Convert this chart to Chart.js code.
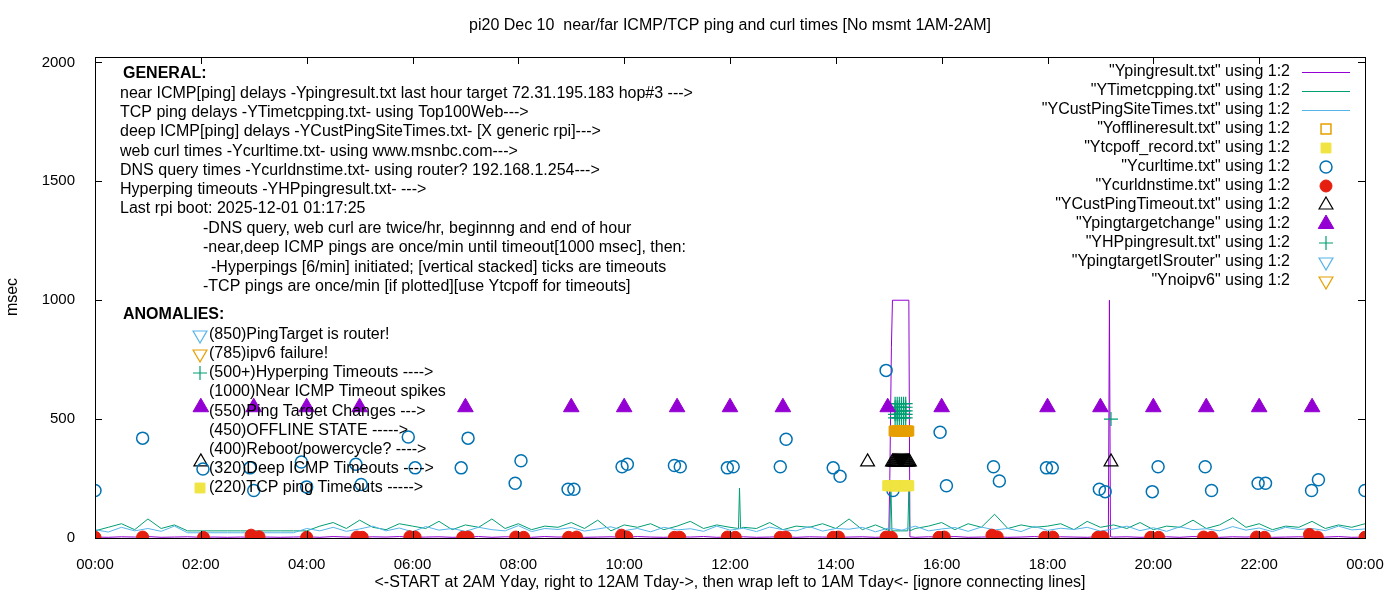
<!DOCTYPE html>
<html>
<head>
<meta charset="utf-8">
<script src="https://cdn.jsdelivr.net/npm/chart.js@4.4.1/dist/chart.umd.min.js"></script>
<style>
  html, body { margin: 0; padding: 0; background: #fff; }
  #wrap { width: 1400px; height: 600px; }
</style>
</head>
<body>
<div id="wrap"><canvas id="c" width="1400" height="600"></canvas></div>
<script>
// =========================
// DATA (hours of day, msec)
// =========================
const TITLE = "pi20 Dec 10  near/far ICMP/TCP ping and curl times [No msmt 1AM-2AM]";
const X_LABEL = "<-START at 2AM Yday, right to 12AM Tday->, then wrap left to 1AM Tday<- [ignore connecting lines]";
const Y_LABEL = "msec";
const X_TICKS = [0, 2, 4, 6, 8, 10, 12, 14, 16, 18, 20, 22, 24];
const X_TICK_LABELS = ["00:00", "02:00", "04:00", "06:00", "08:00", "10:00", "12:00", "14:00", "16:00", "18:00", "20:00", "22:00", "00:00"];
const Y_TICKS = [0, 500, 1000, 1500, 2000];

// near ICMP ping, sampled every 15 min (plus outage spikes)
const pingValues = [4,3,5,4,6,3,4,5,3,4,3,4,3,4,3,4,5,3,6,4,3,5,4,6,3,4,5,3,4,6,3,5,4,3,6,4,5,3,4,5,3,6,4,3,5,4,6,3,4,5,3,4,6,3,5,4,3,4,5,3,6,4,3,5,4,6,3,4,5,3,4,6,3,5,4,3,6,4,5,3,4,5,3,6,4,3,5,4,6,3,4,5,3,4,6,3,4];
const pingSpikeHours = [15.0, 15.02, 15.05, 15.07, 15.38, 15.40, 19.15, 19.17, 19.19];
const pingSpikeValues = [5, 250, 800, 1000, 1000, 5, 5, 1000, 5];

// TCP ping (YTimetcpping), every 15 min
const tcpValues = [30,45,60,35,80,40,55,30,30,30,30,30,30,30,30,30,30,50,65,40,75,45,35,60,50,40,70,35,55,45,80,40,60,35,50,45,65,40,75,30,55,45,60,35,50,70,40,55,45,45,40,65,35,50,45,60,40,80,35,55,45,70,40,50,65,35,60,45,100,40,55,45,50,60,35,70,45,55,40,65,35,50,45,75,40,55,85,45,60,35,50,45,70,40,55,45,60];
const tcpSpikeHours = [12.16, 12.18, 12.2, 15.02, 15.04, 15.06, 15.36, 15.38, 15.4];
const tcpSpikeValues = [40, 210, 40, 30, 220, 30, 30, 200, 30];

// deep ICMP ping (YCustPingSiteTimes), every 15 min
const custValues = [35,25,45,30,40,28,50,22,22,22,22,22,22,22,22,22,40,30,45,28,38,50,30,42,26,48,33,40,28,45,35,30,52,27,40,36,44,29,38,47,31,40,26,45,34,39,28,50,33,41,27,46,35,30,48,29,40,37,45,26,42,33,50,30,38,44,28,46,34,40,27,49,32,41,36,45,29,38,50,31,43,28,47,35,39,30,48,33,42,27,45,36,40,31,50,34,38];

// web curl times (Ycurltime)
const curlHours = [0.0,0.9,2.04,2.93,3.0,3.9,4.0,4.93,5.03,5.92,6.05,6.92,7.05,7.94,8.05,8.94,9.05,9.96,10.06,10.95,11.06,11.95,12.06,12.95,13.06,13.95,14.08,14.95,15.08,15.97,16.09,16.98,17.09,17.98,18.09,18.98,19.09,19.98,20.09,20.98,21.1,21.98,22.12,22.99,23.12,24.0];
const curlValues = [200,420,290,295,200,320,215,310,225,425,295,295,420,230,325,205,205,300,310,305,300,295,300,300,415,295,260,705,200,445,220,300,240,295,295,205,195,195,300,300,200,230,230,200,245,200];

// DNS query times (Ycurldnstime)
const dnsHours = [0.0,0.9,2.05,2.95,3.1,4.0,4.95,5.05,5.95,6.05,6.95,7.05,7.95,8.1,8.95,9.1,9.95,10.05,10.95,11.05,11.95,12.1,12.95,13.05,13.95,14.05,14.95,15.05,15.95,16.05,16.95,17.05,17.95,18.1,18.95,19.05,19.95,20.1,20.95,21.1,21.95,22.1,22.95,23.1,24.0];
const dnsValues = [3,4,2,12,5,3,4,3,5,4,3,4,4,3,3,4,12,4,3,3,4,3,3,4,3,4,4,3,3,4,12,5,3,4,3,4,3,3,4,3,4,3,15,4,3];

// TCP ping timeouts (Ytcpoff_record) at 220
const tcpOffHours = [14.98,15.0,15.02,15.04,15.06,15.08,15.1,15.12,15.14,15.16,15.18,15.2,15.22,15.24,15.26,15.28,15.3,15.32,15.34,15.36,15.38];
const tcpOffValues = [220,220,220,220,220,220,220,220,220,220,220,220,220,220,220,220,220,220,220,220,220];

// offline state (Yofflineresult) at 450
const offlineHours = [15.1,15.12,15.14,15.16,15.18,15.2,15.22,15.24,15.26,15.28,15.3,15.32,15.34,15.36,15.38];
const offlineValues = [450,450,450,450,450,450,450,450,450,450,450,450,450,450,450];

// deep ICMP timeouts (YCustPingTimeout) at 320
const custTimeoutHours = [2.0,14.6,15.07,15.09,15.11,15.13,15.15,15.17,15.19,15.21,15.23,15.25,15.27,15.29,15.31,15.33,15.35,15.37,15.39,19.2];
const custTimeoutValues = [320,320,320,320,320,320,320,320,320,320,320,320,320,320,320,320,320,320,320,320];

// ping target changes at 550
const targetHours = [2,3,4,5,7,9,10,11,12,13,14.98,16,18,19,20,21,22,23];
const targetValues = [550,550,550,550,550,550,550,550,550,550,550,550,550,550,550,550,550,550];

// hyperping timeouts (YHPpingresult) 500+
const hpHours = [15.12,15.16,15.2,15.24,15.28,15.32,15.12,15.16,15.2,15.24,15.28,15.32,15.12,15.16,15.2,15.24,15.28,15.32,15.12,15.16,15.2,15.24,15.28,15.32,15.12,15.16,15.2,15.24,15.28,15.32,19.2];
const hpValues = [505,505,505,505,505,505,520,520,520,520,520,520,535,535,535,535,535,535,550,550,550,550,550,550,565,565,565,565,565,565,500];

// =========================
// COLORS
// =========================
const C_PING = "#9400d3";
const C_TCP = "#009e73";
const C_CUST = "#56b4e9";
const C_CURL = "#0072b2";
const C_DNS = "#e51e10";
const C_TCPOFF = "#f0e442";
const C_OFF = "#e69f00";
const NONE = "rgba(0,0,0,0)";

function pts(xs, ys) {
  return xs.map((x, i) => ({ x: x, y: ys[i] }));
}
function even(vals) {
  return vals.map((v, i) => ({ x: i * 24 / (vals.length - 1), y: v }));
}
// merge regular samples with spike samples; drop regular samples inside spike windows
function merge(vals, sh, sv, gap) {
  const spikes = pts(sh, sv);
  const base = even(vals).filter((p) => !spikes.some((s) => Math.abs(s.x - p.x) < gap) &&
    !(p.x > sh[0] && p.x < sh[sh.length - 1] && spikes.some((s, i) => i > 0 && p.x > spikes[i - 1].x && p.x < s.x && s.x - spikes[i - 1].x < 0.5)));
  return base.concat(spikes).sort((a, b) => a.x - b.x);
}

const pingData = merge(pingValues, pingSpikeHours, pingSpikeValues, 0.05);
const tcpData = merge(tcpValues, tcpSpikeHours, tcpSpikeValues, 0.05);

const LEGEND = [
  { text: '"Ypingresult.txt" using 1:2', line: C_PING },
  { text: '"YTimetcpping.txt" using 1:2', line: C_TCP },
  { text: '"YCustPingSiteTimes.txt" using 1:2', line: C_CUST },
  { text: '"Yofflineresult.txt" using 1:2', pt: { pointStyle: "rect", radius: 7, borderColor: C_OFF, backgroundColor: NONE, borderWidth: 1.5 } },
  { text: '"Ytcpoff_record.txt" using 1:2', pt: { pointStyle: "rect", radius: 7, borderColor: C_TCPOFF, backgroundColor: C_TCPOFF, borderWidth: 1 } },
  { text: '"Ycurltime.txt" using 1:2', pt: { pointStyle: "circle", radius: 6, borderColor: C_CURL, backgroundColor: NONE, borderWidth: 1.5 } },
  { text: '"Ycurldnstime.txt" using 1:2', pt: { pointStyle: "circle", radius: 6, borderColor: C_DNS, backgroundColor: C_DNS, borderWidth: 1 } },
  { text: '"YCustPingTimeout.txt" using 1:2', pt: { pointStyle: "triangle", radius: 8, borderColor: "#000", backgroundColor: NONE, borderWidth: 1.2 } },
  { text: '"Ypingtargetchange" using 1:2', pt: { pointStyle: "triangle", radius: 9, borderColor: C_PING, backgroundColor: C_PING, borderWidth: 1 } },
  { text: '"YHPpingresult.txt" using 1:2', pt: { pointStyle: "cross", radius: 7, borderColor: C_TCP, backgroundColor: C_TCP, borderWidth: 1.2 } },
  { text: '"YpingtargetISrouter" using 1:2', pt: { pointStyle: "triangle", rotation: 180, radius: 8, borderColor: C_CUST, backgroundColor: NONE, borderWidth: 1.2 } },
  { text: '"Ynoipv6" using 1:2', pt: { pointStyle: "triangle", rotation: 180, radius: 8, borderColor: C_OFF, backgroundColor: NONE, borderWidth: 1.2 } },
];

const NOTES = [
  { x: 123, y: 74, t: "GENERAL:", bold: true },
  { x: 120, y: 94, t: "near ICMP[ping] delays -Ypingresult.txt last hour target 72.31.195.183 hop#3 --->" },
  { x: 120, y: 113, t: "TCP ping delays -YTimetcpping.txt- using Top100Web--->" },
  { x: 120, y: 132, t: "deep ICMP[ping] delays -YCustPingSiteTimes.txt- [X generic rpi]--->" },
  { x: 120, y: 152, t: "web curl times -Ycurltime.txt- using www.msnbc.com--->" },
  { x: 120, y: 171, t: "DNS query times -Ycurldnstime.txt- using router? 192.168.1.254--->" },
  { x: 120, y: 190, t: "Hyperping timeouts -YHPpingresult.txt- --->" },
  { x: 120, y: 209, t: "Last rpi boot: 2025-12-01 01:17:25" },
  { x: 203, y: 229, t: "-DNS query, web curl are twice/hr, beginnng and end of hour" },
  { x: 203, y: 248, t: "-near,deep ICMP pings are once/min until timeout[1000 msec], then:" },
  { x: 211, y: 268, t: "-Hyperpings [6/min] initiated; [vertical stacked] ticks are timeouts" },
  { x: 203, y: 287, t: "-TCP pings are once/min [if plotted][use Ytcpoff for timeouts]" },
  { x: 123, y: 315, t: "ANOMALIES:", bold: true },
  { x: 209, y: 335, t: "(850)PingTarget is router!" },
  { x: 209, y: 354, t: "(785)ipv6 failure!" },
  { x: 209, y: 373, t: "(500+)Hyperping Timeouts ---->" },
  { x: 209, y: 392, t: "(1000)Near ICMP Timeout spikes" },
  { x: 209, y: 412, t: "(550)Ping Target Changes --->" },
  { x: 209, y: 431, t: "(450)OFFLINE STATE ----->" },
  { x: 209, y: 450, t: "(400)Reboot/powercycle? ---->" },
  { x: 209, y: 469, t: "(320)Deep ICMP Timeouts ---->" },
  { x: 209, y: 488, t: "(220)TCP ping Timeouts ----->" },
];
const NOTE_MARKS = [
  { y: 335, i: 10 }, { y: 354, i: 11 }, { y: 373, i: 9 }, { y: 488, i: 4 },
];

const FAMILY = "'Liberation Sans', Arial, sans-serif";
const FONT = "16px " + FAMILY;
const FONT_B = "bold 16px " + FAMILY;

function marker(ctx, p, x, y) {
  ctx.save();
  ctx.fillStyle = p.backgroundColor;
  ctx.strokeStyle = p.borderColor;
  ctx.lineWidth = p.borderWidth;
  Chart.helpers.drawPoint(ctx, p, x, y);
  ctx.restore();
}

// =========================
// DECORATION PLUGIN
// =========================
const decor = {
  id: "decor",
  afterDraw(chart) {
    const ctx = chart.ctx;
    const a = chart.chartArea;
    const xs = chart.scales.x, ys = chart.scales.y;
    ctx.save();
    // border + inward ticks
    ctx.strokeStyle = "#000";
    ctx.lineWidth = 1;
    ctx.strokeRect(a.left + 0.5, a.top + 0.5, a.right - a.left, a.bottom - a.top);
    ctx.beginPath();
    X_TICKS.forEach((t) => {
      const px = Math.round(xs.getPixelForValue(t)) + 0.5;
      ctx.moveTo(px, a.bottom); ctx.lineTo(px, a.bottom - 7);
      ctx.moveTo(px, a.top); ctx.lineTo(px, a.top + 7);
    });
    Y_TICKS.forEach((t) => {
      const py = Math.round(ys.getPixelForValue(t)) + 0.5;
      ctx.moveTo(a.left, py); ctx.lineTo(a.left + 7, py);
      ctx.moveTo(a.right, py); ctx.lineTo(a.right - 7, py);
    });
    ctx.stroke();

    ctx.fillStyle = "#000";
    ctx.font = FONT;
    ctx.textAlign = "center";
    ctx.textBaseline = "middle";
    ctx.fillText(TITLE, 730, 26);
    ctx.fillText(X_LABEL, 730, 583);
    ctx.save();
    ctx.translate(13, 297);
    ctx.rotate(-Math.PI / 2);
    ctx.fillText(Y_LABEL, 0, 0);
    ctx.restore();

    // notes
    ctx.textAlign = "left";
    NOTES.forEach((n) => {
      ctx.font = n.bold ? FONT_B : FONT;
      ctx.fillText(n.t, n.x, n.y);
    });
    NOTE_MARKS.forEach((m) => marker(ctx, LEGEND[m.i].pt, 200, m.y));

    // key
    ctx.font = FONT;
    ctx.textAlign = "right";
    LEGEND.forEach((e, i) => {
      const y = 72 + i * 19;
      ctx.fillStyle = "#000";
      ctx.fillText(e.text, 1290, y);
      if (e.line) {
        ctx.strokeStyle = e.line;
        ctx.lineWidth = 1;
        ctx.beginPath();
        ctx.moveTo(1302, y + 0.5); ctx.lineTo(1350, y + 0.5);
        ctx.stroke();
      } else {
        marker(ctx, e.pt, 1326, y);
      }
    });
    ctx.restore();
  },
};

function lineSet(data, color) {
  return { data: data, showLine: true, borderColor: color, borderWidth: 1, pointRadius: 0, fill: false, tension: 0, order: 5 };
}
function ptSet(data, p) {
  return {
    data: data, showLine: false, order: 1,
    pointStyle: p.pointStyle, pointRadius: p.radius, pointHoverRadius: p.radius,
    pointRotation: p.rotation || 0, borderColor: p.borderColor,
    backgroundColor: p.backgroundColor, pointBorderWidth: p.borderWidth,
  };
}

new Chart(document.getElementById("c"), {
  type: "scatter",
  data: {
    datasets: [
      lineSet(even(custValues), C_CUST),
      lineSet(tcpData, C_TCP),
      lineSet(pingData, C_PING),
      ptSet(pts(offlineHours, offlineValues), { pointStyle: "rect", radius: 7, borderColor: C_OFF, backgroundColor: C_OFF, borderWidth: 1 }),
      ptSet(pts(tcpOffHours, tcpOffValues), LEGEND[4].pt),
      ptSet(pts(curlHours, curlValues), LEGEND[5].pt),
      ptSet(pts(dnsHours, dnsValues), LEGEND[6].pt),
      ptSet(pts(custTimeoutHours, custTimeoutValues), LEGEND[7].pt),
      ptSet(pts(targetHours, targetValues), LEGEND[8].pt),
      ptSet(pts(hpHours, hpValues), LEGEND[9].pt),
    ],
  },
  options: {
    responsive: false,
    animation: false,
    layout: { padding: { top: 57, right: 35, left: 0, bottom: 0 } },
    plugins: { legend: { display: false }, title: { display: false }, tooltip: { enabled: false } },
    scales: {
      x: {
        type: "linear", min: 0, max: 24,
        afterBuildTicks: (s) => { s.ticks = X_TICKS.map((v) => ({ value: v })); },
        afterFit: (s) => { s.height = 62; },
        grid: { display: false },
        border: { display: false },
        ticks: {
          color: "#000", font: { family: FAMILY, size: 15 }, padding: 10,
          maxRotation: 0, autoSkip: false,
          callback: (v) => X_TICK_LABELS[X_TICKS.indexOf(v)],
        },
      },
      y: {
        min: 0, max: 2023,
        afterBuildTicks: (s) => { s.ticks = Y_TICKS.map((v) => ({ value: v })); },
        afterFit: (s) => { s.width = 95; },
        grid: { display: false },
        border: { display: false },
        ticks: { color: "#000", font: { family: FAMILY, size: 15 }, padding: 12, callback: (v) => String(v) },
      },
    },
  },
  plugins: [decor],
});
</script>
</body>
</html>
